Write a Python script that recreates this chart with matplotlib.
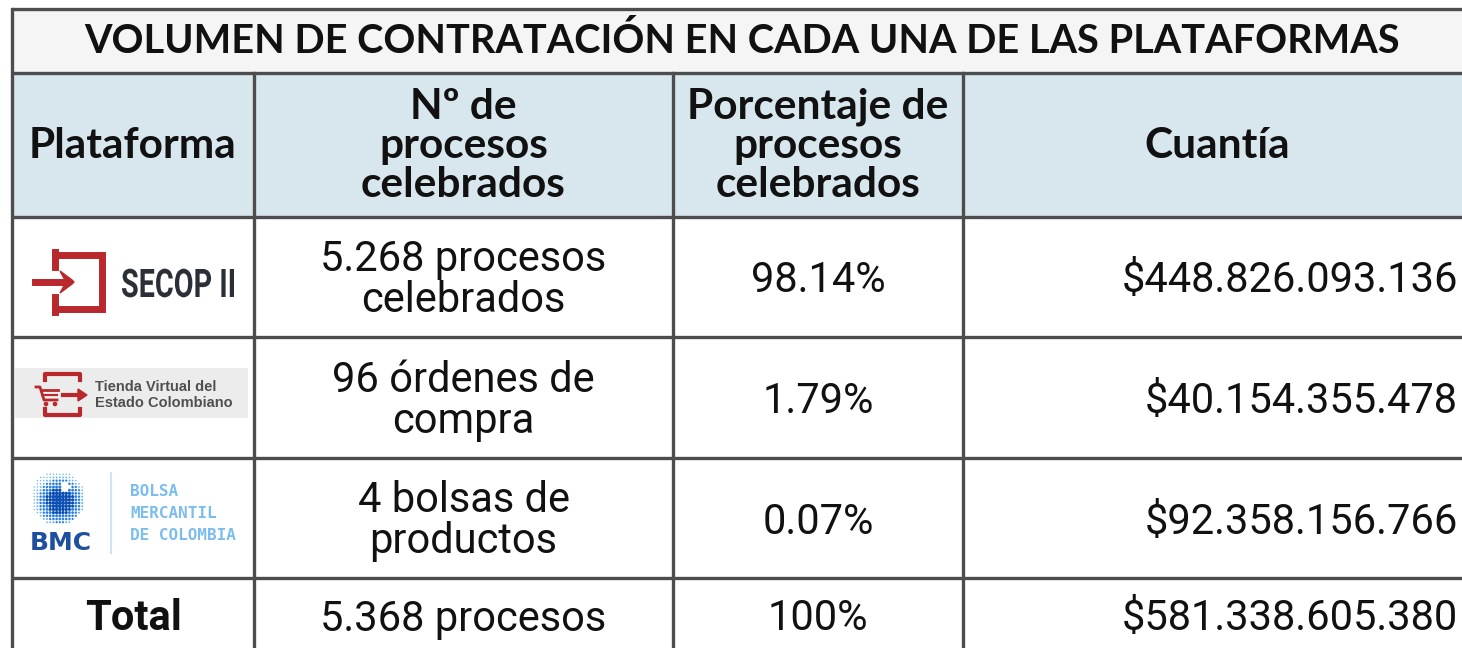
import numpy as np
import matplotlib.pyplot as plt
from matplotlib.patches import Rectangle, Circle, PathPatch
from matplotlib.textpath import TextPath
from matplotlib.font_manager import FontProperties
from matplotlib.transforms import Affine2D

# ---- table content ----
title = "VOLUMEN DE CONTRATACIÓN EN CADA UNA DE LAS PLATAFORMAS"
headers = ["Plataforma", "Nº de\nprocesos\ncelebrados", "Porcentaje de\nprocesos\ncelebrados", "Cuantía"]
platforms = ["SECOP II", "Tienda Virtual", "BMC"]
n_procesos = ["5.268 procesos\ncelebrados", "96 órdenes de\ncompra", "4 bolsas de\nproductos"]
porcentajes = ["98.14%", "1.79%", "0.07%"]
cuantias = ["$448.826.093.136", "$40.154.355.478", "$92.358.156.766"]
total_row = ["Total", "5.368 procesos", "100%", "$581.338.605.380"]

# ---- layout (pixels) ----
W, H = 1462, 648
col_x = [12, 254, 673, 963, 1475]
row_y = [9, 73, 217, 337, 458, 578, 660]
border = "#4d4d4d"
head_font = "Lato"
body_font = "Roboto"
ink = "#111111"

fig = plt.figure(figsize=(W / 100, H / 100), dpi=100)
ax = fig.add_axes([0, 0, 1, 1])
ax.set_xlim(0, W)
ax.set_ylim(H, 0)
ax.axis("off")

# backgrounds
ax.add_patch(Rectangle((col_x[0], row_y[0]), col_x[-1] - col_x[0], row_y[1] - row_y[0], fc="#f5f5f5", ec="none"))
ax.add_patch(Rectangle((col_x[0], row_y[1]), col_x[-1] - col_x[0], row_y[2] - row_y[1], fc="#d8e6ee", ec="none"))

# grid lines
for y in row_y[:-1]:
    ax.plot([col_x[0], col_x[-1]], [y, y], color=border, lw=2.4, solid_capstyle="butt")
ax.plot([col_x[0], col_x[0]], [row_y[0], H], color=border, lw=2.4)
for x in col_x[1:-1]:
    ax.plot([x, x], [row_y[1], H], color=border, lw=2.4)

# title
ax.text(742, 41, title, ha="center", va="center", fontsize=28.5, fontweight="bold", family=head_font, color=ink)

# headers
centers = [(col_x[i] + col_x[i + 1]) / 2 for i in range(3)] + [1217]
hy = (row_y[1] + row_y[2]) / 2 + 1
for cx, h in zip(centers, headers):
    ax.text(cx, hy, h, ha="center", va="center", fontsize=30.5, fontweight="bold", family=head_font,
            color=ink, linespacing=1.03)

# body rows
for i in range(3):
    cy = (row_y[i + 2] + row_y[i + 3]) / 2 + 3
    ax.text(centers[1], cy, n_procesos[i], ha="center", va="center", fontsize=30, family=body_font,
            color=ink, linespacing=1.0)
    ax.text(centers[2], cy + 1, porcentajes[i], ha="center", va="center", fontsize=30, family=body_font, color=ink)
    ax.text(1458, cy + 1, cuantias[i], ha="right", va="center", fontsize=30, family=body_font, color=ink)

ty = 619
ax.text(centers[0], ty, total_row[0], ha="center", va="center", fontsize=30, fontweight="bold", family=body_font, color=ink)
ax.text(centers[1], ty, total_row[1], ha="center", va="center", fontsize=30, family=body_font, color=ink)
ax.text(centers[2], ty, total_row[2], ha="center", va="center", fontsize=30, family=body_font, color=ink)
ax.text(1458, ty, total_row[3], ha="right", va="center", fontsize=30, family=body_font, color=ink)

# ---- logos ----
red = "#b8282c"
# SECOP II
ax.plot([55, 102, 102, 55], [255, 255, 309, 309], color=red, lw=5, solid_joinstyle="miter")
ax.plot([55, 55], [252, 267], color=red, lw=5)
ax.plot([55, 55], [297, 312], color=red, lw=5)
ax.plot([35, 66], [282, 282], color=red, lw=5)
ax.fill([60, 72, 74, 72, 60, 66], [271, 280, 282, 284, 293, 282], color=red)
tp = TextPath((0, 0), platforms[0], size=100, prop=FontProperties(family="Roboto", weight="bold"))
bb = tp.get_extents()
sx = 112 / bb.width
sy = 28 / 71.1
tr = Affine2D().translate(-bb.x0, 0).scale(sx, -sy).translate(122, 297)
ax.add_patch(PathPatch(tr.transform_path(tp), fc="#2b3038", ec="none"))

# Tienda Virtual
ax.add_patch(Rectangle((15, 368), 233, 50, fc="#ececec", ec="none"))
ax.plot([45, 45, 80, 80], [380, 374, 374, 380], color=red, lw=3)
ax.plot([45, 45, 80, 80], [409, 415, 415, 409], color=red, lw=3)
ax.plot([63, 82], [395, 395], color=red, lw=3)
ax.fill([78, 87, 78], [389, 395, 401], color=red)
ax.plot([36, 40, 44, 57], [387, 387, 400, 400], color=red, lw=2)
ax.plot([41, 58], [390, 390], color=red, lw=2)
ax.plot([42, 57], [395, 395], color=red, lw=1.5)
ax.add_patch(Circle((46, 404), 1.6, color=red))
ax.add_patch(Circle((55, 404), 1.6, color=red))
ax.text(95, 387, "Tienda Virtual del", ha="left", va="center", fontsize=10.5, fontweight="bold",
        family="Liberation Sans", color="#505050")
ax.text(95, 403, "Estado Colombiano", ha="left", va="center", fontsize=10.5, fontweight="bold",
        family="Liberation Sans", color="#505050")

# BMC sphere (dot pattern)
gx, gy = np.meshgrid(np.arange(-27, 28, 3.2), np.arange(-27, 28, 3.2))
r = np.hypot(gx, gy)
hl = np.hypot(gx - 8, gy + 11)
m = (r < 27) & (hl > 4.5)
core = np.hypot(gx - 2, gy - 3)
dot_size = 9 * np.clip(1 - core / 30, 0.12, 1)
dot_col = np.where(core[m] < 14, "#0b4fb3", np.where(core[m] < 22, "#2a7fe0", "#6bb7f5"))
ax.scatter(58 + gx[m], 498 + gy[m], s=dot_size[m], c=dot_col, linewidths=0)
ax.text(61, 543, "BMC", ha="center", va="center", fontsize=18, fontweight="bold", family="DejaVu Sans", color="#1f4f9f")
ax.plot([111, 111], [473, 553], color="#cde4f6", lw=1.5)
for j, s in enumerate(["BOLSA", "MERCANTIL", "DE COLOMBIA"]):
    ax.text(130, 491 + 22.5 * j, s, ha="left", va="center", fontsize=11.5, family="DejaVu Sans Mono",
            fontweight="bold", color="#7cbdf0")

fig.savefig("out.png", dpi=100, facecolor="white")
